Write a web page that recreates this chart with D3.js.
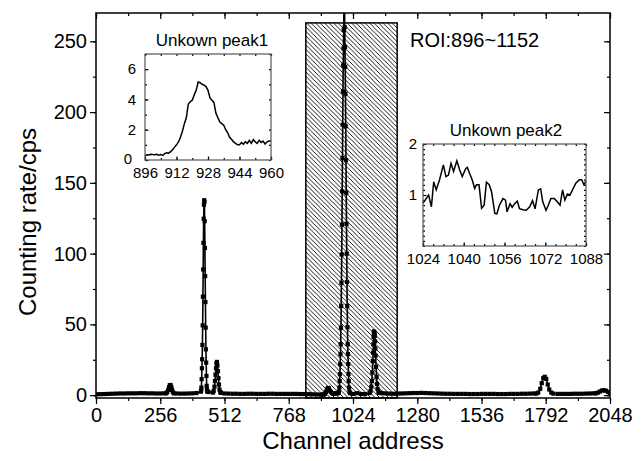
<!DOCTYPE html>
<html><head><meta charset="utf-8">
<script src="https://cdn.jsdelivr.net/npm/d3@7"></script>
<style>
body{margin:0;background:#fff}
text{font-family:"Liberation Sans",Arial,sans-serif;fill:#000}
</style>
</head><body>
<svg id="c" width="644" height="461"></svg>
<script>
// ---------------- DATA ----------------
const xTickLabels = [0,256,512,768,1024,1280,1536,1792,2048];
const yTickLabels = [0,50,100,150,200,250];
const roiRange = [836,1200];
const roiTop = 263;
const roiText = "ROI:896~1152";

// baseline, one value every 16 channels (0..2048)
const baseCounts = [
0.6,0.7,0.8,0.9,1.0,1.1,1.2,1.2,1.3,1.3,1.3,1.4,1.4,1.3,1.3,1.2,
1.2,1.3,1.3,1.3,1.2,1.1,1.1,1.2,1.3,1.5,2.0,2.2,2.2,1.8,1.6,1.5,
1.2,1.1,1.0,1.0,0.9,0.9,1.0,1.0,0.9,0.9,0.9,1.0,1.0,0.9,0.9,0.9,
0.9,0.9,0.9,0.8,0.8,0.7,0.6,0.5,0.4,0.8,1.0,1.1,1.2,1.0,1.0,1.0,
0.9,1.4,0.8,0.8,1.2,1.3,1.3,1.6,1.3,1.1,1.0,1.1,1.2,1.3,1.4,1.5,
1.5,1.6,1.5,1.4,1.3,1.2,1.1,1.0,1.0,0.9,0.9,0.9,0.9,0.8,0.8,0.8,
0.9,0.9,0.9,0.9,0.8,0.8,0.8,0.9,0.9,0.9,1.0,1.0,1.1,1.2,1.2,1.2,
1.2,1.2,1.0,0.9,0.9,0.9,0.9,1.0,1.0,1.0,1.1,1.2,1.3,1.4,1.6,1.6,
1.5];

// peaks (channel, cps)
const peak295Ch  = [280,284,288,291,294,297,300,303,306,310];
const peak295Cps = [1.3,2.2,3.8,5.6,7.0,7.2,5.8,3.8,2.2,1.3];

const peak431Ch  = [418,419,420,421,422,423,424,425,426,427,428,429,430,431,432,433,434,435,436,437,438,439,440,441,442,443,444];
const peak431Cps = [2.5,3.5,5.4,11.3,19,25.4,35.5,49.3,69.6,88.8,107.6,124.6,134.6,137.7,136.5,122.9,104,84.1,65.8,47.7,32.4,23,13.6,6.6,4,3,2.5];

const peak481Ch  = [466,469,472,474,476,478,480,482,484,486,488,490,492,495,498];
const peak481Cps = [1.8,3,6,10,14.5,19,22.5,23.5,21,17,12,7.5,4,2.2,1.6];

const peak924Ch  = [904,908,912,916,920,924,928,932,936,940,944,948,952];
const peak924Cps = [0.4,0.6,1.0,2.3,3.9,5.1,4.8,3.2,2.3,1.5,1.1,1.2,1.3];

const peak989Ch  = [966,968,970,971,972,973,974,975,976,977,978,979,980,981,982,983,984,985,986,987,988,989,990,991,992,993,994,995,996,997,998,999,1000,1001,1002,1003,1004,1005,1006,1007,1008,1010,1012];
const peak989Cps = [1.5,2.5,5.4,10,14.8,21.9,28.9,36,47.7,63,79.4,99.4,120.5,144,167.5,191,214.5,233,245,258,278,300,282,260,246,232,213,190,166,143,121,100,80,63,48,36,29,22,15,10,5.4,2.5,1.5];

const peak1108Ch  = [1090,1094,1097,1099,1101,1103,1104,1105,1106,1107,1108,1110,1111,1112,1113,1114,1116,1118,1120,1122,1125,1128];
const peak1108Cps = [1.5,3,6,10,16,24,30,36,41,44,45,44,42,38,33,28,20,13,8,4.5,2.5,1.5];

const peak1790Ch  = [1754,1762,1770,1776,1782,1788,1794,1800,1806,1814,1822];
const peak1790Cps = [1.1,1.8,4.5,8.5,12,13,11.5,7.5,4,1.8,1.1];

const peak2020Ch  = [1992,2000,2008,2016,2024,2032,2040,2047];
const peak2020Cps = [1.3,1.8,2.6,3.3,3.5,3.1,2.3,1.6];

// inset 1: Unkown peak1 (channel 896..960)
const inset1Title = "Unkown peak1";
const inset1Ch = d3.range(896, 961);
const inset1Cps = [0.28,0.35,0.33,0.38,0.36,0.35,0.38,0.32,0.36,0.30,0.42,0.48,0.45,0.55,0.68,0.85,
1.0,1.2,1.5,1.9,2.4,2.8,3.7,3.85,3.95,4.3,4.6,5.15,5.1,5.0,4.95,4.85,
4.6,4.1,3.95,3.8,3.1,2.8,2.5,2.4,2.3,2.0,1.8,1.5,1.35,1.2,1.1,1.0,
1.0,1.15,1.05,1.2,1.1,1.3,1.1,1.35,1.2,1.1,1.3,1.15,1.25,1.05,1.2,1.25,1.27];
const inset1XTicks = [896,912,928,944,960];
const inset1YTicks = [0,2,4,6];

// inset 2: Unkown peak2 (channel 1024..1088)
const inset2Title = "Unkown peak2";
const inset2Ch = [1024,1026.2,1027.3,1028.2,1029.2,1030.5,1032,1033,1034,1035,1036,1037.3,1038.4,1039.4,1040.8,1041.4,1042.3,1043.3,1044.3,1045,1046,1047,1048,1048.9,1050,1050.9,1052.2,1053,1054,1055.4,1056.4,1057,1058.2,1059,1060,1061,1061.9,1063.2,1064.5,1065.9,1067,1068,1069.3,1070.2,1071,1072.3,1073.2,1074.2,1075.5,1076.5,1077.8,1078.8,1079.7,1080.7,1081.7,1082.7,1084,1085.4,1086.3,1087.2,1088];
const inset2Cps = [0.84,1.0,0.77,1.26,1.1,1.3,1.59,1.36,1.39,1.62,1.46,1.67,1.49,1.36,1.52,1.54,1.42,1.3,1.13,1.2,1.2,0.74,0.8,1.25,1.2,1.07,0.64,0.63,0.8,0.93,0.9,0.67,0.83,0.76,0.83,0.88,0.73,0.71,0.7,0.77,0.89,0.73,1.1,1.12,0.87,0.7,0.8,0.93,0.93,0.88,0.8,1.1,0.9,1.02,1.0,1.1,1.23,1.3,1.3,1.2,1.28];
const inset2XTicks = [1024,1040,1056,1072,1088];
const inset2YTicks = [1,2];

// ---------------- BUILD SPECTRUM ----------------
const peaks = [
  [peak295Ch,peak295Cps],[peak431Ch,peak431Cps],[peak481Ch,peak481Cps],
  [peak924Ch,peak924Cps],[peak989Ch,peak989Cps],[peak1108Ch,peak1108Cps],
  [peak1790Ch,peak1790Cps],[peak2020Ch,peak2020Cps]
];
const baseCh = d3.range(0, 2049, 16);
let spectrum = [];
baseCh.forEach((c,i)=>{
  const inPeak = peaks.some(([ch])=> c >= d3.min(ch)-3 && c <= d3.max(ch)+3);
  if(!inPeak) spectrum.push({ch:c, v:baseCounts[i]});
});
peaks.forEach(([ch,cps])=> ch.forEach((c,i)=> spectrum.push({ch:c, v:cps[i]})));
spectrum.sort((a,b)=>a.ch-b.ch);

// ---------------- DRAW ----------------
const svg = d3.select("#c");
const W=644,H=461;
const plot = {l:96, r:610, t:13, b:398};
const x = d3.scaleLinear().domain([0,2048]).range([plot.l, plot.r]);
const y = d3.scaleLinear().domain([-2,270]).range([plot.b, plot.t]);

svg.append("rect").attr("width",W).attr("height",H).attr("fill","#fff");

const defs = svg.append("defs");
defs.append("clipPath").attr("id","clipMain").append("rect")
  .attr("x",plot.l).attr("y",plot.t).attr("width",plot.r-plot.l).attr("height",plot.b-plot.t);
const pat = defs.append("pattern").attr("id","hatch").attr("patternUnits","userSpaceOnUse")
  .attr("width",4.5).attr("height",4.5);
pat.append("path").attr("d","M0,0L4.5,4.5M-1,3.5L1,5.5M3.5,-1L5.5,1")
  .attr("stroke","#000").attr("stroke-width",0.9);

// ROI hatched box
svg.append("rect")
  .attr("x",x(roiRange[0])).attr("y",y(roiTop))
  .attr("width",x(roiRange[1])-x(roiRange[0])).attr("height",y(-2)-y(roiTop))
  .attr("fill","url(#hatch)").attr("stroke","#000").attr("stroke-width",1.5);

// spectrum
const g = svg.append("g").attr("clip-path","url(#clipMain)");
g.append("path").datum(spectrum)
  .attr("d", d3.line().x(d=>x(d.ch)).y(d=>y(d.v)))
  .attr("fill","none").attr("stroke","#000").attr("stroke-width",1.6);
const ms = 4.2;
g.selectAll("rect.m").data(spectrum).join("rect").attr("class","m")
  .attr("x",d=>x(d.ch)-ms/2).attr("y",d=>y(d.v)-ms/2)
  .attr("width",ms).attr("height",ms).attr("fill","#000");

// axes
function styleAxis(sel, fs){
  sel.select(".domain").remove();
  sel.selectAll("line").attr("stroke","#000").attr("stroke-width",1.2);
  sel.selectAll("text").attr("font-size",fs).attr("font-family","Liberation Sans, Arial, sans-serif").attr("fill","#000");
}
const xMinor = d3.range(0, 2049, 128);
const yMinor = d3.range(0, 271, 25);
svg.append("g").attr("transform",`translate(0,${plot.b})`)
  .call(d3.axisBottom(x).tickValues(xMinor).tickSize(3).tickFormat("")).call(s=>styleAxis(s,20));
svg.append("g").attr("transform",`translate(0,${plot.b})`)
  .call(d3.axisBottom(x).tickValues(xTickLabels).tickSize(6).tickPadding(4).tickFormat(d3.format("d"))).call(s=>styleAxis(s,20));
svg.append("g").attr("transform",`translate(0,${plot.t})`)
  .call(d3.axisTop(x).tickValues(xMinor).tickSize(-3).tickFormat("")).call(s=>styleAxis(s,20));
svg.append("g").attr("transform",`translate(0,${plot.t})`)
  .call(d3.axisTop(x).tickValues(xTickLabels).tickSize(-6).tickFormat("")).call(s=>styleAxis(s,20));
svg.append("g").attr("transform",`translate(${plot.l},0)`)
  .call(d3.axisLeft(y).tickValues(yMinor).tickSize(3).tickFormat("")).call(s=>styleAxis(s,20));
svg.append("g").attr("transform",`translate(${plot.l},0)`)
  .call(d3.axisLeft(y).tickValues(yTickLabels).tickSize(6).tickPadding(3).tickFormat(d3.format("d"))).call(s=>styleAxis(s,20));
svg.append("g").attr("transform",`translate(${plot.r},0)`)
  .call(d3.axisRight(y).tickValues(yMinor).tickSize(-3).tickFormat("")).call(s=>styleAxis(s,20));
svg.append("g").attr("transform",`translate(${plot.r},0)`)
  .call(d3.axisRight(y).tickValues(yTickLabels).tickSize(-6).tickFormat("")).call(s=>styleAxis(s,20));

svg.append("rect").attr("x",plot.l).attr("y",plot.t).attr("width",plot.r-plot.l).attr("height",plot.b-plot.t)
  .attr("fill","none").attr("stroke","#000").attr("stroke-width",1.5);

// titles
svg.append("text").attr("x",(plot.l+plot.r)/2).attr("y",449).attr("text-anchor","middle")
  .attr("font-size",24).text("Channel address");
svg.append("text").attr("transform",`translate(36,222) rotate(-90)`)
  .attr("text-anchor","middle").attr("font-size",24).text("Counting rate/cps");
svg.append("text").attr("x",410).attr("y",47).attr("font-size",20).text(roiText);

// insets
function inset(box, xd, yd, xs, ys, xTicks, xMin, yTicks, yMin, yPad, title, titleX, titleY){
  const ix = d3.scaleLinear().domain(xd).range([box.l, box.l+box.w]);
  const iy = d3.scaleLinear().domain(yd).range([box.t+box.h, box.t]);
  svg.append("rect").attr("x",box.l).attr("y",box.t).attr("width",box.w).attr("height",box.h).attr("fill","#fff");
  const ig = svg.append("g");
  ig.append("path").datum(xs.map((v,i)=>[v,ys[i]]))
    .attr("d", d3.line().x(d=>ix(d[0])).y(d=>iy(d[1])))
    .attr("fill","none").attr("stroke","#000").attr("stroke-width",1.5);
  const fs=15;
  const add = (axisFn, tr, vals, size, fmt, pad)=>{
    return ig.append("g").attr("transform",tr)
      .call(axisFn.tickValues(vals).tickSize(size).tickPadding(pad||3).tickFormat(fmt)).call(s=>styleAxis(s,fs));
  };
  add(d3.axisBottom(ix), `translate(0,${box.t+box.h})`, xMin, -2, "");
  add(d3.axisBottom(ix), `translate(0,${box.t+box.h})`, xTicks, -3.5, d3.format("d"), 7);
  add(d3.axisTop(ix), `translate(0,${box.t})`, xMin, -2, "");
  add(d3.axisLeft(iy), `translate(${box.l},0)`, yMin, -2, "");
  const yl = add(d3.axisLeft(iy), `translate(${box.l},0)`, yTicks, -3.5, d3.format("d"), yPad);
  yl.selectAll("text").filter(d=>d===0).attr("dx",-4).attr("dy","0.2em");
  add(d3.axisRight(iy), `translate(${box.l+box.w},0)`, yMin, -2, "");
  ig.append("rect").attr("x",box.l).attr("y",box.t).attr("width",box.w).attr("height",box.h)
    .attr("fill","none").attr("stroke","#555").attr("stroke-width",1.2);
  svg.append("text").attr("x",titleX).attr("y",titleY).attr("text-anchor","middle").attr("font-size",17).text(title);
}
inset({l:145,t:54,w:126,h:106},[896,960],[0,7],inset1Ch,inset1Cps,
  inset1XTicks, d3.range(896,961,8), inset1YTicks, d3.range(0,8,1), 9, inset1Title, 212, 46);
inset({l:423,t:144,w:163,h:102},[1024,1088],[0,2],inset2Ch,inset2Cps,
  inset2XTicks, d3.range(1024,1089,4), inset2YTicks, d3.range(0,2.01,0.1), 6, inset2Title, 506, 136);
</script>
</body></html>
